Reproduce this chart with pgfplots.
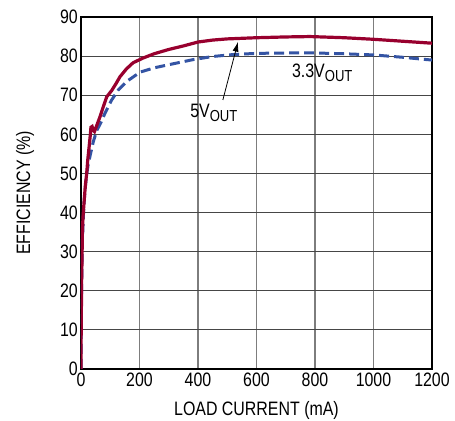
\documentclass[border=0pt]{standalone}
\usepackage{fontspec}
\setmainfont{Liberation Sans}[FakeStretch=0.82]
\usepackage{pgfplots}
\pgfplotsset{compat=1.18}
\usetikzlibrary{arrows.meta}

\definecolor{effred}{RGB}{152,0,46}
\definecolor{effblue}{RGB}{52,84,164}
\definecolor{hgrid}{RGB}{70,70,70}
\definecolor{vgrid}{RGB}{125,125,125}
\newcommand\chartfont{\fontsize{19.5}{22}\selectfont}
\newcommand\vout[1]{#1V\raisebox{-4bp}{\fontsize{16}{16}\selectfont OUT}}

\begin{document}
\begin{tikzpicture}
  \begin{axis} [
    scale only axis,
    width = 351bp,
    height = 352bp,
    xmin = 0, xmax = 1200,
    ymin = 0, ymax = 90,
    xtick distance = 200,
    ytick distance = 10,
    grid = major,
    major x grid style = { line width = 1.6bp, color = vgrid },
    major y grid style = { line width = 1.1bp, color = hgrid },
    axis line style = { line width = 1.4bp, black },
    major tick length = 0pt,
    /pgf/number format/assume math mode = true,
    /pgf/number format/1000 sep = {},
    tick label style = { font = \chartfont, inner sep = 0pt },
    xticklabel style = { yshift = -4bp },
    yticklabel style = { xshift = -3bp },
    label style = { font = \chartfont },
    xlabel = {LOAD CURRENT (mA)},
    ylabel = {EFFICIENCY (\%)},
    xlabel style = { at = {(axis description cs:0.5,0)}, anchor = base, yshift = -47bp },
    ylabel style = { at = {(axis description cs:-0.1595,0.5)}, anchor = center },
  ]

  % 3.3V out
  \addplot [effblue, line width = 3bp, dash pattern = on 10bp off 5bp] coordinates {
    (0,0) (0.5,8) (1.5,17) (3,26) (5,33) (8,39) (12,44) (18,49) (24,52)
    (31,54.5) (42,58.1) (54,61) (68,63) (82,65.4) (105,68.8) (128,71.4)
    (156,73.5) (202,75.9) (250,77) (300,77.8) (383,79.1) (450,79.9)
    (520,80.4) (600,80.7) (700,80.8) (800,80.8) (900,80.6) (1000,80.3)
    (1100,79.7) (1183,79.1) (1200,79)
  };

  % 5V out
  \addplot [effred, line width = 3.2bp] coordinates {
    (0,0) (0.3,5) (0.6,10) (1.5,17) (2,22) (3.5,28) (4.6,34.6) (7,39)
    (11,43.2) (15,47) (19.5,50) (23,53.4) (28,57) (32,60) (34,61.8)
    (38,62) (42,61) (46,60.7) (55,62.5) (65,64.5) (76,67) (88,69.6)
    (105,71.2) (120,73) (133,74.7) (155,76.7) (178,78.3) (212,79.5)
    (250,80.6) (300,81.7) (350,82.6) (400,83.6) (450,84.1) (500,84.4)
    (600,84.7) (700,84.9) (783,85) (900,84.7) (1000,84.3) (1100,83.8)
    (1200,83.3)
  };

  \draw [line width = 0.8bp, -{Latex[length=10bp, width=6bp]}]
    (axis cs:485,68.8) -- (axis cs:537,83.7);
  \node [anchor = base west, inner sep = 0pt, font = \chartfont] at (axis cs:373,64.2) {\vout{5}};
  \node [anchor = base west, inner sep = 0pt, font = \chartfont] at (axis cs:721,74.6) {\vout{3.3}};

  \coordinate (sw) at (rel axis cs:0,0);
  \coordinate (ne) at (rel axis cs:1,1);
  \end{axis}
  \pgfresetboundingbox
  \path ([shift={(-81bp,-52bp)}]sw) rectangle ([shift={(23bp,17bp)}]ne);
\end{tikzpicture}
\end{document}
